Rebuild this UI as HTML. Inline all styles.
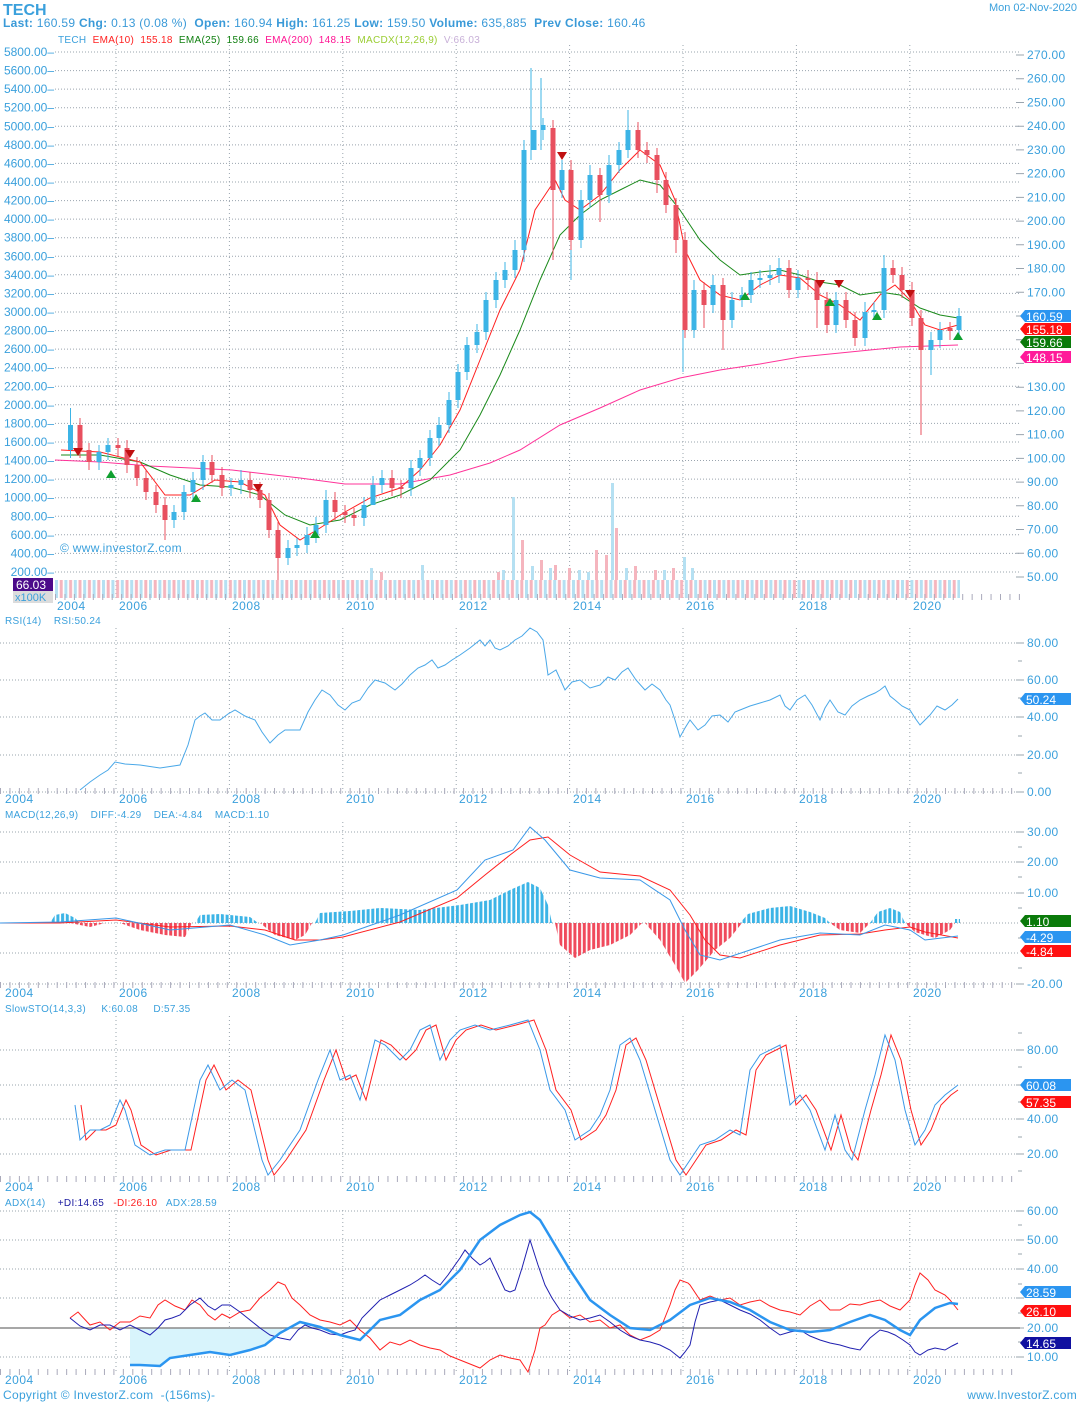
<!DOCTYPE html>
<html><head><meta charset="utf-8">
<style>
html,body{margin:0;padding:0;background:#fff;}
body{width:1080px;height:1404px;overflow:hidden;}
svg text{font-family:"Liberation Sans","DejaVu Sans",sans-serif;white-space:pre;}
</style></head>
<body>
<svg width="1080" height="1404" viewBox="0 0 1080 1404">
<defs>
<pattern id="vol" x="55" y="0" width="9.4" height="30" patternUnits="userSpaceOnUse"><rect x="0" y="0" width="3" height="30" fill="#b5e0f2"/><rect x="4.7" y="0" width="3" height="30" fill="#f5b5be"/></pattern>
<pattern id="hb" x="0" y="0" width="4.7" height="30" patternUnits="userSpaceOnUse"><rect x="0" y="0" width="3" height="30" fill="#3cb4e6"/></pattern>
<pattern id="hr" x="0" y="0" width="4.7" height="30" patternUnits="userSpaceOnUse"><rect x="0" y="0" width="3" height="30" fill="#f04a5c"/></pattern>
</defs>

<!-- HEADER -->
<text x="3" y="15" font-size="16" font-weight="bold" fill="#3aa0dc">TECH</text>
<text x="3" y="27" font-size="12" fill="#3a9ad8" letter-spacing="0.3"><tspan font-weight="bold">Last:</tspan> 160.59 <tspan font-weight="bold">Chg:</tspan> 0.13 (0.08 %)  <tspan font-weight="bold">Open:</tspan> 160.94 <tspan font-weight="bold">High:</tspan> 161.25 <tspan font-weight="bold">Low:</tspan> 159.50 <tspan font-weight="bold">Volume:</tspan> 635,885  <tspan font-weight="bold">Prev Close:</tspan> 160.46</text>
<text x="1077" y="11" font-size="11" fill="#3aa0dc" text-anchor="end">Mon 02-Nov-2020</text>
<text x="58" y="43" font-size="10" letter-spacing="0.3"><tspan fill="#3aa0dc">TECH</tspan>  <tspan fill="#ff2020">EMA(10)</tspan>  <tspan fill="#ff2020">155.18</tspan>  <tspan fill="#108010">EMA(25)</tspan>  <tspan fill="#108010">159.66</tspan>  <tspan fill="#ff1493">EMA(200)</tspan>  <tspan fill="#ff1493">148.15</tspan>  <tspan fill="#9acd32">MACDX(12,26,9)</tspan>  <tspan fill="#c8b0d8">V:66.03</tspan></text>

<!-- GRID (all panels) -->
<g stroke="#9aa4ae" stroke-dasharray="1,2" fill="none">
<path d="M55,52H1020M55,70.6H1020M55,89.1H1020M55,107.7H1020M55,126.3H1020M55,144.9H1020M55,163.4H1020M55,182H1020M55,200.6H1020M55,219.1H1020M55,237.7H1020M55,256.3H1020M55,274.8H1020M55,293.4H1020M55,312H1020M55,330.6H1020M55,349.1H1020M55,367.7H1020M55,386.3H1020M55,404.8H1020M55,423.4H1020M55,442H1020M55,460.5H1020M55,479.1H1020M55,497.7H1020M55,516.3H1020M55,534.8H1020M55,553.4H1020M55,572H1020"/>
<path d="M0,643H1020M0,680H1020M0,717H1020M0,755H1020M0,792H1020"/>
<path d="M0,832H1020M0,862H1020M0,893H1020M0,923H1020M0,953H1020M0,984H1020"/>
<path d="M0,1050H1020M0,1085H1020M0,1119H1020M0,1154H1020"/>
<path d="M0,1211H1020M0,1240H1020M0,1269H1020M0,1298H1020M0,1357H1020"/>
</g>
<g stroke="#9aa4ae" stroke-dasharray="1,3">
<path d="M116,45V598M229.4,45V598M342.8,45V598M456.2,45V598M569.6,45V598M683,45V598M796.4,45V598M909.8,45V598"/>
<path d="M116,628V792M229.4,628V792M342.8,628V792M456.2,628V792M569.6,628V792M683,628V792M796.4,628V792M909.8,628V792"/>
<path d="M116,822V986M229.4,822V986M342.8,822V986M456.2,822V986M569.6,822V986M683,822V986M796.4,822V986M909.8,822V986"/>
<path d="M116,1016V1180M229.4,1016V1180M342.8,1016V1180M456.2,1016V1180M569.6,1016V1180M683,1016V1180M796.4,1016V1180M909.8,1016V1180"/>
<path d="M116,1210V1374M229.4,1210V1374M342.8,1210V1374M456.2,1210V1374M569.6,1210V1374M683,1210V1374M796.4,1210V1374M909.8,1210V1374"/>
</g>

<!-- LEFT AXIS -->
<g font-size="12" fill="#3aa0dc" text-anchor="end">
<text x="54" y="56">5800.00–</text><text x="54" y="74.6">5600.00–</text><text x="54" y="93.1">5400.00–</text><text x="54" y="111.7">5200.00–</text><text x="54" y="130.3">5000.00–</text><text x="54" y="148.9">4800.00–</text><text x="54" y="167.4">4600.00–</text><text x="54" y="186">4400.00–</text><text x="54" y="204.6">4200.00–</text><text x="54" y="223.1">4000.00–</text><text x="54" y="241.7">3800.00–</text><text x="54" y="260.3">3600.00–</text><text x="54" y="278.8">3400.00–</text><text x="54" y="297.4">3200.00–</text><text x="54" y="316">3000.00–</text><text x="54" y="334.6">2800.00–</text><text x="54" y="353.1">2600.00–</text><text x="54" y="371.7">2400.00–</text><text x="54" y="390.3">2200.00–</text><text x="54" y="408.8">2000.00–</text><text x="54" y="427.4">1800.00–</text><text x="54" y="446">1600.00–</text><text x="54" y="464.5">1400.00–</text><text x="54" y="483.1">1200.00–</text><text x="54" y="501.7">1000.00–</text><text x="54" y="520.3">800.00–</text><text x="54" y="538.8">600.00–</text><text x="54" y="557.4">400.00–</text><text x="54" y="576">200.00–</text>
</g>

<!-- RIGHT AXIS -->
<g stroke="#9aa4ae"><path d="M1016,55H1024M1016,78.7H1024M1016,102.5H1024M1016,126.2H1024M1016,149.9H1024M1016,173.6H1024M1016,197.4H1024M1016,221.1H1024M1016,244.8H1024M1016,268.5H1024M1016,292.3H1024M1016,316H1024M1016,339.7H1024M1016,363.4H1024M1016,387.2H1024M1016,410.9H1024M1016,434.6H1024M1016,458.4H1024M1016,482.1H1024M1016,505.8H1024M1016,529.5H1024M1016,553.3H1024M1016,577H1024
M1016,643H1024M1016,680H1024M1016,717H1024M1016,755H1024M1016,792H1024M1018,661H1022M1018,698H1022M1018,736H1022M1018,773H1022
M1016,832H1024M1016,862H1024M1016,893H1024M1016,984H1024M1018,847H1022M1018,877H1022M1018,908H1022M1018,938H1022M1018,968H1022
M1016,1050H1024M1016,1085H1024M1016,1119H1024M1016,1154H1024M1018,1033H1022M1018,1067H1022M1018,1102H1022M1018,1137H1022M1018,1171H1022
M1016,1211H1024M1016,1240H1024M1016,1269H1024M1016,1298H1024M1016,1328H1024M1016,1357H1024M1018,1225H1022M1018,1254H1022M1018,1284H1022M1018,1313H1022M1018,1342H1022"/></g>
<g font-size="12" fill="#3aa0dc" letter-spacing="0.3">
<text x="1027" y="59">270.00</text><text x="1027" y="82.7">260.00</text><text x="1027" y="106.5">250.00</text><text x="1027" y="130.2">240.00</text><text x="1027" y="153.9">230.00</text><text x="1027" y="177.6">220.00</text><text x="1027" y="201.4">210.00</text><text x="1027" y="225.1">200.00</text><text x="1027" y="248.8">190.00</text><text x="1027" y="272.5">180.00</text><text x="1027" y="296.3">170.00</text><text x="1027" y="391.2">130.00</text><text x="1027" y="414.9">120.00</text><text x="1027" y="438.6">110.00</text><text x="1027" y="462.4">100.00</text><text x="1027" y="486.1">90.00</text><text x="1027" y="509.8">80.00</text><text x="1027" y="533.5">70.00</text><text x="1027" y="557.3">60.00</text><text x="1027" y="581">50.00</text>
<text x="1027" y="647">80.00</text><text x="1027" y="684">60.00</text><text x="1027" y="721">40.00</text><text x="1027" y="759">20.00</text><text x="1027" y="796">0.00</text>
<text x="1027" y="836">30.00</text><text x="1027" y="866">20.00</text><text x="1027" y="897">10.00</text><text x="1027" y="988">-20.00</text>
<text x="1027" y="1054">80.00</text><text x="1027" y="1123">40.00</text><text x="1027" y="1158">20.00</text>
<text x="1027" y="1215">60.00</text><text x="1027" y="1244">50.00</text><text x="1027" y="1273">40.00</text><text x="1027" y="1332">20.00</text><text x="1027" y="1361">10.00</text>
</g>

<!-- VOLUME -->
<rect x="55" y="580" width="905" height="18" fill="url(#vol)"/>
<g fill="#b5e0f2"><rect x="512" y="497" width="3" height="83"/><rect x="611" y="483" width="3" height="97"/><rect x="683" y="557" width="3" height="23"/><rect x="370" y="568" width="3" height="12"/><rect x="421" y="565" width="3" height="15"/><rect x="502" y="570" width="3" height="10"/><rect x="531" y="566" width="3" height="14"/><rect x="549" y="568" width="3" height="12"/><rect x="578" y="570" width="3" height="10"/><rect x="625" y="568" width="3" height="12"/><rect x="663" y="570" width="3" height="10"/><rect x="691" y="568" width="3" height="12"/><rect x="587" y="572" width="3" height="8"/></g>
<g fill="#f5b5be"><rect x="615" y="528" width="3" height="52"/><rect x="595" y="550" width="3" height="30"/><rect x="521" y="540" width="3" height="40"/><rect x="540" y="560" width="3" height="20"/><rect x="605" y="555" width="3" height="25"/><rect x="554" y="565" width="3" height="15"/><rect x="568" y="568" width="3" height="12"/><rect x="634" y="566" width="3" height="14"/><rect x="654" y="570" width="3" height="10"/><rect x="672" y="568" width="3" height="12"/><rect x="497" y="572" width="3" height="8"/><rect x="380" y="572" width="3" height="8"/></g>

<!-- EMA LINES -->
<polyline fill="none" stroke="#ff3399" stroke-width="1" points="55,460 100,462 150,466 232,470 300,478 345,484 400,484 450,475 490,463 520,450 560,425 600,408 640,390 680,378 720,370 760,364 800,357 850,352 900,347 958,345"/>
<polyline fill="none" stroke="#1a8a1a" stroke-width="1" points="61,455 100,455 140,462 170,475 200,485 230,487 260,495 285,515 310,525 340,520 370,505 400,495 430,480 460,450 480,415 500,375 520,330 540,280 560,235 580,215 600,200 620,190 640,180 660,185 680,210 700,240 720,260 740,275 760,272 780,270 800,275 820,282 840,285 860,295 880,292 900,295 920,308 940,315 958,318"/>
<polyline fill="none" stroke="#ff2020" stroke-width="1" points="61,450 100,452 140,462 165,495 190,495 215,480 240,482 265,495 280,525 300,540 320,528 345,512 370,498 400,488 420,470 440,445 460,410 480,360 500,310 520,270 535,210 545,195 555,180 565,200 580,210 600,195 620,170 640,150 660,165 675,200 685,250 700,280 720,295 740,300 760,285 780,275 800,278 820,295 840,305 860,320 880,295 895,285 910,300 925,325 940,330 958,325"/>

<!-- CANDLE WICKS -->
<g stroke="#3cb4e6" stroke-width="1">
<path d="M70.5,408V458M99,445V470M108,438V460M174,505V528M184,485V520M193,472V500M203,455V490M231,478V496M241,470V494M288,540V565M297,538V556M307,527V553M316,517V543M326,490V533M364,497V526M373,476V500M382,470V493M411,460V496M420,450V476M430,430V466M439,417V446M449,392V433M458,364V408M467,337V380M477,324V353M486,292V340M496,272V308M505,262V288M515,240V278M524,140V262M531,68V160M541,78V150M543,118V140M562,160V198M571,230V280M581,190V248M590,165V208M609,155V203M619,142V173M628,110V158M683,320V372M694,280V338M713,275V313M732,292V328M742,287V307M751,272V303M760,270V288M770,265V285M779,258V283M798,270V298M836,292V333M865,302V346M874,302V320M884,255V318M931,332V375M940,322V348M959,308V338"/>
</g>
<g stroke="#e8505f" stroke-width="1">
<path d="M80,418V458M89,443V470M118,438V456M127,440V473M137,457V486M146,470V500M156,485V513M165,497V540M212,455V483M222,467V496M250,472V498M260,482V508M269,493V538M278,522V580M335,492V520M345,505V523M354,508V526M392,470V496M401,480V498M553,120V260M571,160V250M600,168V222M638,122V158M647,142V163M657,148V193M666,172V213M676,198V253M685,232V338M704,282V328M723,278V350M789,260V298M808,270V290M817,272V328M827,292V333M846,292V328M855,312V346M893,260V283M902,267V298M912,282V326M921,310V435M950,322V340"/>
</g>
<!-- CANDLE BODIES -->
<g fill="#3cb4e6">
<rect x="68" y="425" width="5" height="25"/><rect x="96.5" y="452" width="5" height="10"/><rect x="105.5" y="445" width="5" height="7"/><rect x="171.5" y="512" width="5" height="8"/><rect x="181.5" y="492" width="5" height="20"/><rect x="190.5" y="480" width="5" height="12"/><rect x="200.5" y="462" width="5" height="18"/><rect x="228.5" y="485" width="5" height="3"/><rect x="238.5" y="480" width="5" height="5"/><rect x="285.5" y="548" width="5" height="10"/><rect x="294.5" y="545" width="5" height="3"/><rect x="304.5" y="535" width="5" height="10"/><rect x="313.5" y="525" width="5" height="10"/><rect x="323.5" y="500" width="5" height="25"/><rect x="361.5" y="505" width="5" height="13"/><rect x="370.5" y="485" width="5" height="20"/><rect x="379.5" y="478" width="5" height="7"/><rect x="408.5" y="468" width="5" height="20"/><rect x="417.5" y="458" width="5" height="10"/><rect x="427.5" y="438" width="5" height="20"/><rect x="436.5" y="425" width="5" height="13"/><rect x="446.5" y="400" width="5" height="25"/><rect x="455.5" y="372" width="5" height="28"/><rect x="464.5" y="345" width="5" height="27"/><rect x="474.5" y="332" width="5" height="13"/><rect x="483.5" y="300" width="5" height="32"/><rect x="493.5" y="280" width="5" height="20"/><rect x="502.5" y="270" width="5" height="10"/><rect x="512.5" y="250" width="5" height="20"/><rect x="521.5" y="150" width="5" height="100"/><rect x="531.5" y="130" width="5" height="20"/><rect x="540.5" y="125" width="5" height="5"/><rect x="559.5" y="170" width="5" height="20"/><rect x="578.5" y="200" width="5" height="40"/><rect x="587.5" y="175" width="5" height="25"/><rect x="606.5" y="165" width="5" height="30"/><rect x="616.5" y="150" width="5" height="15"/><rect x="625.5" y="130" width="5" height="20"/><rect x="691.5" y="290" width="5" height="40"/><rect x="710.5" y="285" width="5" height="20"/><rect x="729.5" y="300" width="5" height="20"/><rect x="739.5" y="295" width="5" height="5"/><rect x="748.5" y="280" width="5" height="15"/><rect x="757.5" y="278" width="5" height="2"/><rect x="767.5" y="275" width="5" height="3"/><rect x="776.5" y="268" width="5" height="7"/><rect x="795.5" y="278" width="5" height="12"/><rect x="833.5" y="300" width="5" height="25"/><rect x="862.5" y="312" width="5" height="26"/><rect x="871.5" y="310" width="5" height="2"/><rect x="881.5" y="268" width="5" height="42"/><rect x="928.5" y="340" width="5" height="10"/><rect x="937.5" y="330" width="5" height="10"/><rect x="956.5" y="316" width="5" height="14"/>
</g>
<g fill="#e8505f">
<rect x="77.5" y="425" width="5" height="25"/><rect x="86.5" y="450" width="5" height="12"/><rect x="115.5" y="445" width="5" height="3"/><rect x="124.5" y="448" width="5" height="17"/><rect x="134.5" y="465" width="5" height="13"/><rect x="143.5" y="478" width="5" height="14"/><rect x="153.5" y="492" width="5" height="13"/><rect x="162.5" y="505" width="5" height="15"/><rect x="209.5" y="462" width="5" height="13"/><rect x="219.5" y="475" width="5" height="13"/><rect x="247.5" y="480" width="5" height="10"/><rect x="257.5" y="490" width="5" height="10"/><rect x="266.5" y="500" width="5" height="30"/><rect x="275.5" y="530" width="5" height="28"/><rect x="332.5" y="500" width="5" height="12"/><rect x="342.5" y="512" width="5" height="3"/><rect x="351.5" y="515" width="5" height="3"/><rect x="389.5" y="478" width="5" height="10"/><rect x="398.5" y="487" width="5" height="2"/><rect x="550.5" y="128" width="5" height="62"/><rect x="568.5" y="170" width="5" height="70"/><rect x="597.5" y="175" width="5" height="20"/><rect x="635.5" y="130" width="5" height="20"/><rect x="644.5" y="150" width="5" height="5"/><rect x="654.5" y="155" width="5" height="25"/><rect x="663.5" y="180" width="5" height="25"/><rect x="673.5" y="205" width="5" height="35"/><rect x="682.5" y="240" width="5" height="90"/><rect x="701.5" y="290" width="5" height="15"/><rect x="720.5" y="285" width="5" height="35"/><rect x="786.5" y="268" width="5" height="22"/><rect x="805.5" y="278" width="5" height="2"/><rect x="814.5" y="280" width="5" height="20"/><rect x="824.5" y="300" width="5" height="25"/><rect x="843.5" y="300" width="5" height="20"/><rect x="852.5" y="320" width="5" height="18"/><rect x="890.5" y="268" width="5" height="7"/><rect x="899.5" y="275" width="5" height="15"/><rect x="909.5" y="290" width="5" height="28"/><rect x="918.5" y="318" width="5" height="32"/><rect x="947.5" y="328" width="5" height="3"/>
</g>
<!-- MARKERS -->
<g fill="#c01010"><path d="M73,448h10l-5,8z"/><path d="M125,450h10l-5,8z"/><path d="M253,484h10l-5,8z"/><path d="M557,152h10l-5,8z"/><path d="M815,280h10l-5,8z"/><path d="M834,280h10l-5,8z"/><path d="M905,290h10l-5,8z"/></g>
<g fill="#10a030"><path d="M106,478h10l-5,-8z"/><path d="M191,502h10l-5,-8z"/><path d="M310,538h10l-5,-8z"/><path d="M740,300h10l-5,-8z"/><path d="M825,306h10l-5,-8z"/><path d="M872,320h10l-5,-8z"/><path d="M953,340h10l-5,-8z"/></g>
<text x="60" y="552" font-size="12" fill="#3aa0dc" letter-spacing="0.3">© www.investorZ.com</text>
<rect x="13" y="578" width="40" height="13" fill="#4b0a8a"/><text x="16" y="589" font-size="12" fill="#fff">66.03</text>
<rect x="13" y="591" width="40" height="12" fill="#dcdcdc"/><text x="15" y="601" font-size="11" fill="#3aa0dc">x100K</text>

<!-- badges main -->
<g font-size="12" fill="#fff">
<path d="M1020,316l5,-6h46v12h-46z" fill="#2b95f0"/><text x="1026" y="321">160.59</text>
<path d="M1020,329l5,-6h46v12h-46z" fill="#ff1010"/><text x="1026" y="334">155.18</text>
<path d="M1020,342l5,-6h46v12h-46z" fill="#0a7a0a"/><text x="1026" y="347">159.66</text>
<path d="M1020,357l5,-6h46v12h-46z" fill="#ff1a9a"/><text x="1026" y="362">148.15</text>
</g>

<!-- YEAR ROWS -->
<g stroke="#aab">
<line x1="55" y1="597" x2="1020" y2="597" stroke-width="6" stroke-dasharray="1,8.45"/>
<line x1="0" y1="791" x2="1020" y2="791" stroke-width="6" stroke-dasharray="1,8.45"/>
<line x1="0" y1="985" x2="1020" y2="985" stroke-width="6" stroke-dasharray="1,8.45"/>
<line x1="0" y1="1179" x2="1020" y2="1179" stroke-width="6" stroke-dasharray="1,8.45"/>
<line x1="0" y1="1372" x2="1020" y2="1372" stroke-width="6" stroke-dasharray="1,8.45"/>
</g>
<g font-size="12" fill="#3aa0dc" letter-spacing="0.5">
<text x="57" y="610">2004</text><text x="119" y="610">2006</text><text x="232" y="610">2008</text><text x="346" y="610">2010</text><text x="459" y="610">2012</text><text x="573" y="610">2014</text><text x="686" y="610">2016</text><text x="799" y="610">2018</text><text x="913" y="610">2020</text>
<text x="5" y="803">2004</text><text x="119" y="803">2006</text><text x="232" y="803">2008</text><text x="346" y="803">2010</text><text x="459" y="803">2012</text><text x="573" y="803">2014</text><text x="686" y="803">2016</text><text x="799" y="803">2018</text><text x="913" y="803">2020</text>
<text x="5" y="997">2004</text><text x="119" y="997">2006</text><text x="232" y="997">2008</text><text x="346" y="997">2010</text><text x="459" y="997">2012</text><text x="573" y="997">2014</text><text x="686" y="997">2016</text><text x="799" y="997">2018</text><text x="913" y="997">2020</text>
<text x="5" y="1191">2004</text><text x="119" y="1191">2006</text><text x="232" y="1191">2008</text><text x="346" y="1191">2010</text><text x="459" y="1191">2012</text><text x="573" y="1191">2014</text><text x="686" y="1191">2016</text><text x="799" y="1191">2018</text><text x="913" y="1191">2020</text>
<text x="5" y="1384">2004</text><text x="119" y="1384">2006</text><text x="232" y="1384">2008</text><text x="346" y="1384">2010</text><text x="459" y="1384">2012</text><text x="573" y="1384">2014</text><text x="686" y="1384">2016</text><text x="799" y="1384">2018</text><text x="913" y="1384">2020</text>
</g>

<!-- RSI -->
<text x="5" y="624" font-size="10" fill="#3aa0dc" letter-spacing="0.3">RSI(14)    RSI:50.24</text>
<polyline fill="none" stroke="#4aa8e8" stroke-width="1" points="80,790 90,782 100,775 108,770 115,762 125,764 140,765 160,768 180,765 188,745 195,720 200,716 205,713 212,720 220,720 228,714 235,710 245,716 255,720 262,732 270,743 278,735 285,730 300,730 308,712 315,700 322,690 330,695 338,705 345,710 352,703 360,700 368,688 375,680 385,683 395,690 402,684 410,675 418,668 425,665 432,660 438,668 445,665 452,660 460,655 470,648 480,640 485,646 490,640 495,648 500,650 508,646 515,640 522,636 530,628 537,632 543,640 546,660 548,675 556,670 565,690 572,682 580,680 590,688 600,685 608,677 615,680 622,672 628,668 636,680 645,690 652,684 660,690 666,700 670,705 675,720 680,737 685,728 690,720 698,730 705,725 712,716 720,715 728,722 735,712 740,710 750,706 760,703 770,700 780,695 785,706 790,710 797,700 805,695 812,705 820,720 825,708 830,700 838,712 845,715 852,706 860,700 868,696 875,693 880,690 885,686 890,696 895,700 902,706 910,710 915,718 920,725 925,720 930,715 937,706 945,710 952,705 958,699"/>
<g font-size="12" fill="#fff"><path d="M1020,699l5,-6h46v12h-46z" fill="#2b95f0"/><text x="1026" y="704">50.24</text></g>

<!-- MACD -->
<text x="5" y="818" font-size="10" fill="#3aa0dc" letter-spacing="0.3">MACD(12,26,9)    DIFF:-4.29    DEA:-4.84    MACD:1.10</text>
<g>
<path d="M50,923L55,915L65,913L75,918L80,923Z M195,923L200,915L220,914L250,917L258,923Z M315,923L320,913L350,911L380,908L420,910L460,905L490,900L510,890L528,882L540,888L548,905L552,923Z M740,923L748,914L770,908L790,906L810,912L825,918L830,923Z M870,923L878,912L890,908L900,912L905,923Z M955,923L955,919L960,919L960,923Z" fill="url(#hb)"/>
<path d="M70,923L90,927L105,923Z M120,923L140,930L165,935L185,937L192,923Z M260,923L275,935L295,940L305,935L312,923Z M555,923L560,945L575,958L590,950L610,945L630,935L642,923Z M645,923L660,940L675,965L685,983L698,970L715,950L730,938L742,923Z M830,923L840,930L860,933L870,923Z M905,923L915,932L935,938L950,930L955,923Z" fill="url(#hr)"/>
</g>
<polyline fill="none" stroke="#ff2020" stroke-width="1" points="0,923 60,923 116,920 170,927 230,926 265,930 295,940 320,940 343,937 400,922 457,898 485,875 510,855 530,840 548,837 570,855 600,872 640,876 670,890 690,915 705,940 720,955 740,958 780,945 820,935 860,934 885,930 910,927 925,932 958,938"/>
<polyline fill="none" stroke="#3a98e8" stroke-width="1" points="0,923 60,922 116,918 170,930 230,925 265,935 290,945 320,940 343,935 400,915 457,890 485,860 513,850 530,827 545,840 570,870 600,878 640,880 670,900 685,930 700,955 720,960 780,940 820,933 860,935 885,925 910,930 925,940 958,936"/>
<g font-size="12" fill="#fff">
<path d="M1020,921l5,-6h46v12h-46z" fill="#0a7a0a"/><text x="1026" y="926">1.10</text>
<path d="M1020,937l5,-6h46v12h-46z" fill="#2b95f0"/><text x="1026" y="942">-4.29</text>
<path d="M1020,951l5,-6h46v12h-46z" fill="#ff1010"/><text x="1026" y="956">-4.84</text>
</g>

<!-- STO -->
<text x="5" y="1012" font-size="10" fill="#3aa0dc" letter-spacing="0.3">SlowSTO(14,3,3)     K:60.08     D:57.35</text>
<polyline fill="none" stroke="#ff2020" stroke-width="1" points="81,1105 86,1140 96,1130 106,1130 116,1125 126,1100 131,1110 141,1145 156,1155 171,1150 191,1150 206,1080 214,1065 226,1090 238,1080 251,1090 268,1160 274,1175 286,1160 306,1130 324,1080 336,1050 346,1080 356,1075 366,1100 381,1040 391,1045 406,1060 416,1050 426,1030 436,1025 446,1060 456,1040 466,1030 481,1025 496,1030 516,1025 534,1020 546,1050 556,1090 571,1110 581,1140 596,1130 606,1115 616,1090 626,1045 636,1038 646,1060 661,1110 676,1160 686,1175 696,1160 706,1145 721,1140 736,1130 746,1135 756,1070 766,1055 786,1045 796,1105 806,1095 816,1110 831,1150 841,1115 851,1150 858,1160 871,1110 881,1075 891,1035 901,1060 911,1110 921,1145 931,1130 941,1105 951,1095 958,1090"/>
<polyline fill="none" stroke="#3a98e8" stroke-width="1" points="75,1105 80,1140 90,1130 100,1130 110,1125 120,1100 125,1110 135,1145 150,1155 165,1150 185,1150 200,1080 208,1065 220,1090 232,1080 245,1090 262,1160 268,1175 280,1160 300,1130 318,1080 330,1050 340,1080 350,1075 360,1100 375,1040 385,1045 400,1060 410,1050 420,1030 430,1025 440,1060 450,1040 460,1030 475,1025 490,1030 510,1025 528,1020 540,1050 550,1090 565,1110 575,1140 590,1130 600,1115 610,1090 620,1045 630,1038 640,1060 655,1110 670,1160 680,1175 690,1160 700,1145 715,1140 730,1130 740,1135 750,1070 760,1055 780,1045 790,1105 800,1095 810,1110 825,1150 835,1115 845,1150 852,1160 865,1110 875,1075 885,1035 895,1060 905,1110 915,1145 925,1130 935,1105 945,1095 958,1085"/>
<g font-size="12" fill="#fff">
<path d="M1020,1085l5,-6h46v12h-46z" fill="#2b95f0"/><text x="1026" y="1090">60.08</text>
<path d="M1020,1102l5,-6h46v12h-46z" fill="#ff1010"/><text x="1026" y="1107">57.35</text>
</g>

<!-- ADX -->
<text x="5" y="1206" font-size="10" letter-spacing="0.3"><tspan fill="#3aa0dc">ADX(14)</tspan>    <tspan fill="#1a1aa0">+DI:14.65</tspan>   <tspan fill="#ff2020">-DI:26.10</tspan>   <tspan fill="#3aa0dc">ADX:28.59</tspan></text>
<path d="M130,1328L130,1365L160,1366L170,1358L190,1355L210,1352L230,1355L250,1350L265,1345L280,1333L283,1328Z" fill="#d8f4fc"/>
<line x1="0" y1="1328" x2="1020" y2="1328" stroke="#8a8a8a" stroke-width="1.5"/>
<polyline fill="none" stroke="#ff2020" stroke-width="1" points="70,1318 78,1312 90,1325 100,1322 110,1330 120,1322 130,1322 140,1316 150,1318 158,1305 165,1300 175,1306 185,1310 192,1300 200,1305 208,1315 215,1320 222,1314 230,1318 240,1312 250,1310 260,1298 270,1290 278,1282 285,1285 292,1298 300,1305 310,1315 320,1320 330,1322 340,1325 350,1320 360,1330 370,1338 380,1350 390,1342 400,1345 410,1340 420,1345 430,1348 440,1350 450,1356 460,1360 470,1364 480,1368 490,1360 500,1355 510,1358 520,1360 528,1372 535,1350 540,1328 545,1325 552,1315 560,1310 570,1318 580,1315 590,1322 600,1320 610,1328 620,1325 630,1335 640,1340 650,1336 660,1330 670,1305 675,1290 680,1280 688,1283 690,1285 700,1300 710,1296 720,1300 730,1298 740,1305 750,1302 760,1300 770,1306 780,1310 790,1312 800,1315 810,1306 820,1300 830,1310 840,1310 850,1304 860,1305 870,1302 880,1300 890,1306 900,1310 910,1300 915,1285 920,1273 928,1280 935,1290 945,1295 950,1300 958,1310"/>
<polyline fill="none" stroke="#2020b0" stroke-width="1" points="70,1318 80,1326 90,1330 100,1325 110,1325 120,1330 130,1325 140,1330 150,1335 158,1328 165,1320 172,1318 180,1315 190,1305 200,1298 208,1306 215,1310 222,1305 230,1305 240,1312 250,1320 260,1328 270,1335 280,1338 290,1340 298,1330 305,1325 312,1328 320,1330 330,1334 340,1335 348,1332 355,1330 362,1318 370,1310 380,1300 390,1295 400,1290 410,1285 418,1280 425,1275 432,1280 440,1285 448,1275 455,1265 460,1258 465,1250 472,1258 480,1265 485,1262 490,1258 498,1275 505,1290 510,1292 515,1290 522,1268 530,1240 538,1265 545,1285 552,1298 560,1310 570,1316 580,1320 590,1318 600,1315 610,1322 620,1330 630,1336 640,1340 650,1342 660,1345 670,1350 680,1358 685,1352 690,1345 695,1322 700,1305 710,1302 720,1300 730,1305 740,1310 750,1314 760,1320 770,1328 780,1335 790,1332 800,1330 810,1336 820,1340 830,1343 840,1345 850,1348 860,1350 870,1338 880,1330 888,1332 895,1335 903,1340 910,1345 915,1352 920,1355 928,1350 935,1348 945,1350 952,1346 958,1343"/>
<polyline fill="none" stroke="#2b95f0" stroke-width="2.5" points="130,1365 140,1365 160,1366 170,1358 190,1355 210,1352 230,1355 250,1350 265,1345 280,1333 300,1322 320,1327 340,1335 360,1340 380,1320 400,1315 420,1300 440,1290 460,1270 480,1240 500,1225 520,1215 530,1212 540,1220 555,1245 570,1270 590,1300 610,1315 630,1328 650,1330 670,1320 690,1305 710,1298 730,1302 750,1310 770,1322 790,1330 810,1332 830,1330 850,1322 870,1315 885,1320 900,1330 910,1335 920,1320 935,1308 950,1303 958,1304"/>
<g font-size="12" fill="#fff">
<path d="M1020,1292l5,-6h46v12h-46z" fill="#2b95f0"/><text x="1026" y="1297">28.59</text>
<path d="M1020,1311l5,-6h46v12h-46z" fill="#ff1010"/><text x="1026" y="1316">26.10</text>
<path d="M1020,1343l5,-6h46v12h-46z" fill="#1010a0"/><text x="1026" y="1348">14.65</text>
</g>

<text x="3" y="1399" font-size="12" fill="#3aa0dc" letter-spacing="0.3">Copyright © InvestorZ.com  -(156ms)-</text>
<text x="1077" y="1399" font-size="12" fill="#3aa0dc" text-anchor="end" letter-spacing="0.3">www.InvestorZ.com</text>
</svg>
</body></html>
